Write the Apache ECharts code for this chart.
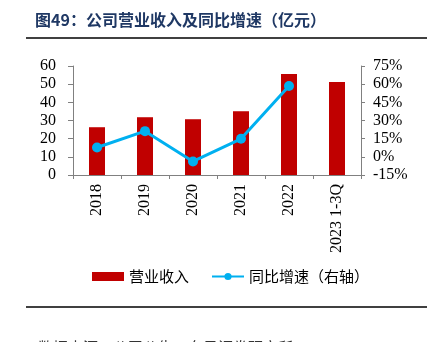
<!DOCTYPE html>
<html>
<head>
<meta charset="utf-8">
<script src="https://cdn.jsdelivr.net/npm/echarts@6/dist/echarts.min.js"></script>
<style>
html,body{margin:0;padding:0;background:#fff;}
#c{width:431px;height:342px;}
</style>
</head>
<body>
<div id="c"></div>
<script>
const categories = ['2018', '2019', '2020', '2021', '2022', '2023 1-3Q'];
const revenue = [26.3, 31.8, 30.7, 35.1, 55.6, 51.2];
const growth = [7.7, 21.2, -3.8, 14.9, 58.5, null];
const leftTicks = [0, 10, 20, 30, 40, 50, 60];
const rightTicks = [-15, 0, 15, 30, 45, 60, 75];

const serif = '"Liberation Serif", "Times New Roman", serif';
const cjk = '"Noto Sans CJK SC", sans-serif';

const chart = echarts.init(document.getElementById('c'), null, {renderer: 'canvas'});
chart.setOption({
  animation: false,
  backgroundColor: '#fff',
  graphic: [
    {type: 'text', left: 35, top: 12, style: {text: '图49：公司营业收入及同比增速（亿元）', font: 'bold 16px ' + cjk, fill: '#1f3864'}},
    {type: 'line', shape: {x1: 26, y1: 38, x2: 427, y2: 38}, style: {stroke: '#000', lineWidth: 1.5}},
    {type: 'line', shape: {x1: 26, y1: 307, x2: 427, y2: 307}, style: {stroke: '#000', lineWidth: 1.5}},
    {type: 'text', left: 38, top: 340, style: {text: '数据来源：公司公告，东吴证券研究所', font: '15px ' + cjk, fill: '#333'}}
  ],
  legend: {
    top: 264,
    left: 87,
    itemGap: 22,
    itemWidth: 32,
    itemHeight: 9,
    textStyle: {fontFamily: cjk, fontSize: 15, color: '#000'},
    data: [
      {name: '营业收入', icon: 'rect'},
      {name: '同比增速（右轴）'}
    ]
  },
  grid: {left: 73, right: 70, top: 66, bottom: 167, containLabel: false},
  xAxis: {
    type: 'category',
    data: categories,
    axisLine: {lineStyle: {color: '#808080'}},
    axisTick: {show: true, length: 4, lineStyle: {color: '#808080'}},
    axisLabel: {rotate: 90, fontFamily: serif, fontSize: 16, color: '#000', margin: 9, interval: 0}
  },
  yAxis: [
    {
      type: 'value', min: 0, max: 60, interval: 10,
      axisLine: {show: true, lineStyle: {color: '#808080'}},
      axisTick: {show: true, length: 5, lineStyle: {color: '#808080'}},
      splitLine: {show: false},
      axisLabel: {fontFamily: serif, fontSize: 16, color: '#000', margin: 17,
        formatter: v => leftTicks.includes(v) ? String(v) : ''}
    },
    {
      type: 'value', min: -15, max: 75, interval: 15,
      axisLine: {show: true, lineStyle: {color: '#808080'}},
      axisTick: {show: true, length: 4, lineStyle: {color: '#808080'}},
      splitLine: {show: false},
      axisLabel: {fontFamily: serif, fontSize: 16, color: '#000', margin: 12,
        formatter: v => rightTicks.includes(v) ? v + '%' : ''}
    }
  ],
  series: [
    {
      name: '营业收入', type: 'bar', data: revenue, barWidth: 16,
      itemStyle: {color: '#c00000'}
    },
    {
      name: '同比增速（右轴）', type: 'line', yAxisIndex: 1, data: growth,
      symbol: 'circle', symbolSize: 10,
      lineStyle: {color: '#00b0f0', width: 3},
      itemStyle: {color: '#00b0f0'}
    }
  ]
});
</script>
</body>
</html>
